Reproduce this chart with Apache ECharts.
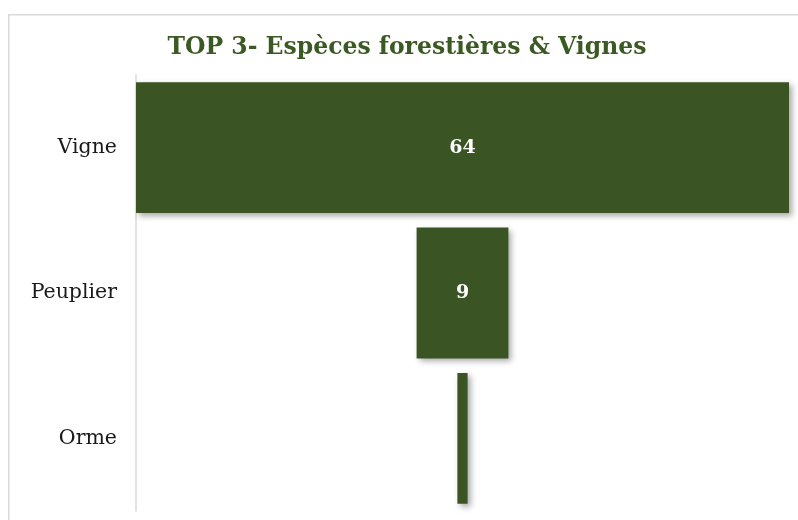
<!DOCTYPE html>
<html>
<head>
<meta charset="utf-8">
<script src="https://cdn.jsdelivr.net/npm/echarts@6/dist/echarts.min.js"></script>
<style>html,body{margin:0;padding:0;background:#fff;}#c{width:798px;height:520px;}</style>
</head>
<body>
<div id="c"></div>
<script>
const titleText = 'TOP 3- Espèces forestières & Vignes';
const categories = ['Vigne', 'Peuplier', 'Orme'];
const values = [64, 9, 1];
const maxValue = 64;
const offsets = values.map(v => (maxValue - v) / 2);

const chart = echarts.init(document.getElementById('c'));
chart.setOption({
  animation: false,
  backgroundColor: '#ffffff',
  graphic: [{
    type: 'rect', left: 8, top: 14, z: -1,
    shape: { width: 820, height: 540 },
    style: { fill: '#ffffff', stroke: '#d9d9d9', lineWidth: 1.5 }
  }],
  title: {
    text: titleText, left: 402, textAlign: 'center', top: 31,
    textStyle: { fontFamily: 'DejaVu Serif', fontWeight: 'bold', fontSize: 23.5, color: '#3b5a23' }
  },
  grid: { left: 136, right: 9, top: 75, bottom: 9 },
  xAxis: { type: 'value', min: 0, max: maxValue, show: false },
  yAxis: {
    type: 'category', data: categories, inverse: true,
    axisLine: { show: true, lineStyle: { color: '#d9d9d9', width: 1.5 } },
    axisTick: { show: false },
    axisLabel: { margin: 19, fontFamily: 'DejaVu Serif', fontSize: 20.5, color: '#1a1a1a' }
  },
  series: [{
    type: 'bar', stack: 'f', data: offsets, barWidth: '90%',
    itemStyle: { color: 'transparent' }, silent: true
  }, {
    type: 'bar', stack: 'f', data: values, barWidth: '90%',
    itemStyle: { color: '#3a5424', shadowColor: 'rgba(0,0,0,0.35)', shadowBlur: 6, shadowOffsetX: 3, shadowOffsetY: 3 },
    label: {
      show: true, position: 'inside',
      formatter: p => p.value > 1 ? String(p.value) : '',
      fontFamily: 'DejaVu Serif', fontWeight: 'bold', fontSize: 19, color: '#ffffff'
    }
  }]
});
</script>
</body>
</html>
